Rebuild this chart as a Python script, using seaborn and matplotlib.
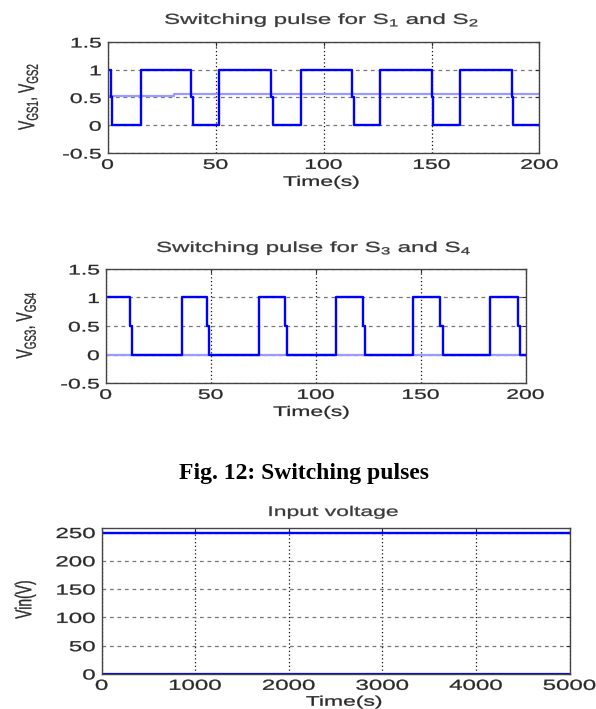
import numpy as np
import pandas as pd
import matplotlib
matplotlib.use("Agg")
import matplotlib.pyplot as plt
import seaborn as sns
from matplotlib.patheffects import AbstractPathEffect
from matplotlib.transforms import Affine2D

# ---- data ----
t12 = [0, 1.8, 2.3, 15.3, 38.8, 39.4, 51.6, 75.8, 76.4, 89.4, 113.3, 113.9, 126, 150.1, 150.7, 163, 187.3, 187.9, 200]
v12 = [1, 0.5, 0, 1, 0.5, 0, 1, 0.5, 0, 1, 0.5, 0, 1, 0.5, 0, 1, 0.5, 0, 0]
t12_light = [0, 30.8, 200]
v12_light = [0.53, 0.57, 0.57]

t34 = [0, 11.8, 12.7, 36.2, 48.3, 49.2, 72.8, 85.4, 86.3, 109.9, 122.5, 123.4, 146.6, 159.1, 160.5, 183.2, 196.2, 197.3, 200]
v34 = [1, 0.5, 0, 1, 0.5, 0, 1, 0.5, 0, 1, 0.5, 0, 1, 0.5, 0, 1, 0.5, 0, 0]
t34_light = [0, 200]
v34_light = [0, 0]

t_in = [0, 5000]
v_in = [250, 250]
v_in_zero = [0, 0]

pulse_xticks = [0, 50, 100, 150, 200]
pulse_yticks = [-0.5, 0, 0.5, 1, 1.5]
pulse_yticklabels = ["-0.5", "0", "0.5", "1", "1.5"]
vin_xticks = [0, 1000, 2000, 3000, 4000, 5000]
vin_yticks = [0, 50, 100, 150, 200, 250]

sns.set_style("white")
plt.rcParams['font.family'] = ['Liberation Sans', 'DejaVu Sans']
plt.rcParams['mathtext.fontset'] = 'custom'
plt.rcParams['mathtext.rm'] = 'Liberation Sans'

TXT = '#2a2a2a'
TTL = '#3a3a3a'
BLUE = '#0000ff'
LIGHT = '#9a9aff'
SX = 1.65  # horizontal stretch of the original bitmap text


class Stretch(AbstractPathEffect):
    """Stretch rendered text horizontally (display x) about an anchor, slightly emboldened."""
    def __init__(self, sx, anchor='center', bold=0.22):
        super().__init__()
        self.sx = sx
        self.anchor = anchor
        self.bold = bold

    def draw_path(self, renderer, gc, tpath, affine, rgbFace=None):
        if len(tpath.vertices) == 0:
            return
        ext = affine.transform_path(tpath).get_extents()
        if self.anchor == 'right':
            cx = ext.x1
        elif self.anchor == 'left':
            cx = ext.x0
        else:
            cx = 0.5 * (ext.x0 + ext.x1)
        aff = affine + Affine2D().translate(-cx, 0).scale(self.sx, 1).translate(cx, 0)
        gc0 = renderer.new_gc()
        gc0.copy_properties(gc)
        if rgbFace is not None and self.bold > 0:
            gc0.set_linewidth(self.bold)
            gc0.set_foreground(rgbFace)
        renderer.draw_path(gc0, tpath, aff, rgbFace)
        gc0.restore()


fig = plt.figure(figsize=(5.96, 7.09), dpi=100)


def style(ax, xticks, yticks, yticklabels=None, fs=10):
    ax.set_xticks(xticks)
    ax.set_yticks(yticks)
    if yticklabels is not None:
        ax.set_yticklabels(yticklabels)
    ax.tick_params(direction='in', length=3, width=0.8, colors=TXT, labelsize=fs,
                   top=True, right=True)
    ax.tick_params(axis='x', pad=3.5)
    ax.tick_params(axis='y', pad=4.5)
    for s in ax.spines.values():
        s.set_color('#444444')
        s.set_linewidth(1.0)
    ax.xaxis.grid(True, linestyle=(0, (1, 2)), color='#111111', linewidth=0.9)
    ax.yaxis.grid(True, linestyle=(0, (3, 3)), color='#777777', linewidth=0.9)
    ax.set_axisbelow(True)


def draw(ax, t, v, color, lw):
    df = pd.DataFrame({"t": t, "v": v})
    sns.lineplot(data=df, x="t", y="v", ax=ax, color=color, linewidth=lw,
                 drawstyle='steps-post', estimator=None, sort=False)


def labels(ax, title, tpos, ylab, ypos, xpos, tfs=10.5):
    t = ax.text(tpos[0], tpos[1], title, transform=ax.transAxes, ha='center', va='center',
                fontsize=tfs, color=TTL)
    t.set_path_effects([Stretch(SX, 'center')])
    ax.set_xlabel("Time(s)", fontsize=10, color=TXT)
    ax.xaxis.set_label_coords(*xpos)
    ax.xaxis.label.set_va('center')
    ax.xaxis.label.set_path_effects([Stretch(SX, 'center')])
    ax.set_ylabel(ylab, fontsize=10, color=TXT)
    ax.yaxis.set_label_coords(*ypos)
    ax.yaxis.label.set_va('center')
    ax.yaxis.label.set_path_effects([Stretch(SX, 'center')])


# Axes 1
ax1 = fig.add_axes([0.1804, 0.7842, 0.7248, 0.1566])
draw(ax1, t12_light, v12_light, LIGHT, 1.6)
draw(ax1, t12, v12, BLUE, 1.7)
ax1.set_xlim(0, 200); ax1.set_ylim(-0.5, 1.5)
style(ax1, pulse_xticks, pulse_yticks, pulse_yticklabels)
labels(ax1, r"Switching pulse for S$_{\mathregular{1}}$ and S$_{\mathregular{2}}$", (0.497, 1.198),
       r"V$_{\mathregular{GS1}}$, V$_{\mathregular{GS2}}$", (-0.184, 0.51), (0.495, -0.26))

# Axes 2
ax2 = fig.add_axes([0.1773, 0.4598, 0.7045, 0.1608])
draw(ax2, t34_light, v34_light, LIGHT, 1.6)
draw(ax2, t34, v34, BLUE, 1.7)
ax2.set_xlim(0, 200); ax2.set_ylim(-0.5, 1.5)
style(ax2, pulse_xticks, pulse_yticks, pulse_yticklabels)
labels(ax2, r"Switching pulse for S$_{\mathregular{3}}$ and S$_{\mathregular{4}}$", (0.497, 1.184),
       r"V$_{\mathregular{GS3}}$, V$_{\mathregular{GS4}}$", (-0.19, 0.51), (0.49, -0.254))

fig.text(0.51, 1 - 473/709, "Fig. 12: Switching pulses", family=['Liberation Serif', 'DejaVu Serif'],
         fontweight='bold', fontsize=17, ha='center', va='center', color='black')

# Axes 3
ax3 = fig.add_axes([0.1706, 0.0494, 0.7852, 0.2059])
draw(ax3, t_in, v_in_zero, BLUE, 1.6)
draw(ax3, t_in, v_in, BLUE, 1.7)
ax3.set_xlim(0, 5000); ax3.set_ylim(0, 258)
style(ax3, vin_xticks, vin_yticks, fs=10.5)
labels(ax3, "Input voltage", (0.495, 1.11), "Vin(V)", (-0.164, 0.51), (0.518, -0.19), tfs=10)

fig.canvas.draw()
for ax in (ax1, ax2, ax3):
    for tk in ax.xaxis.get_major_ticks():
        tk.label1.set_path_effects([Stretch(SX, 'center')])
    for tk in ax.yaxis.get_major_ticks():
        tk.label1.set_path_effects([Stretch(SX, 'right')])

fig.savefig("out.png", dpi=100, facecolor='white')
